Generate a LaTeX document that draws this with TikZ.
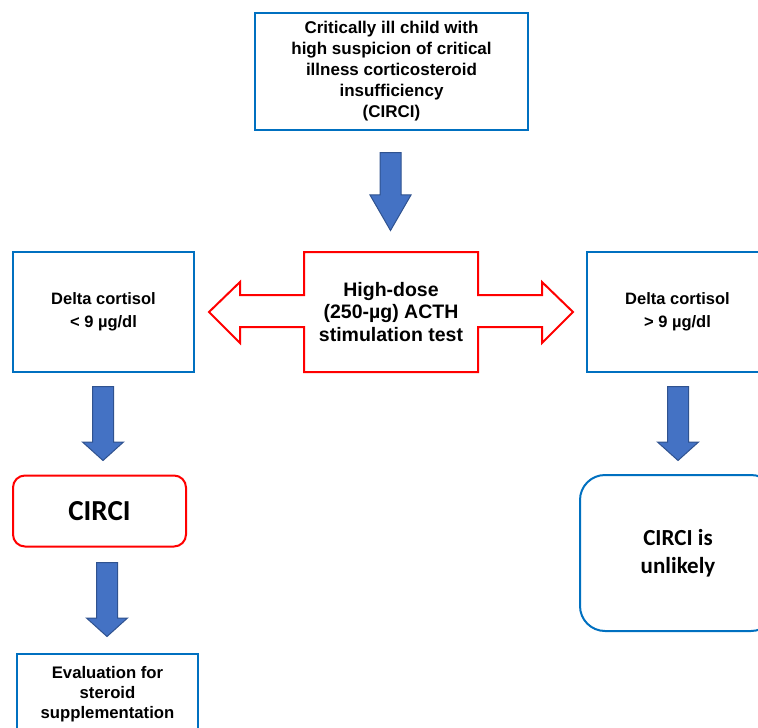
\documentclass[tikz,border=0pt]{standalone}
\usepackage{fontspec}
\setmainfont{Liberation Sans}
\newfontfamily\calfont{Carlito}
\usetikzlibrary{shapes.arrows}
\definecolor{boxblue}{RGB}{0,112,192}
\definecolor{arrfill}{RGB}{68,114,196}
\definecolor{arredge}{RGB}{47,82,143}

\begin{document}
\begin{tikzpicture}[x=1pt,y=-1pt,
    bluebox/.style={draw=boxblue,line width=2pt,fill=white,align=center},
    downarrow/.style={single arrow,shape border rotate=270,draw=arredge,fill=arrfill,line width=1pt,
      inner sep=10pt,single arrow head extend=10pt,single arrow head indent=0pt,anchor=tail}]
    \useasboundingbox (0,0) rectangle (758,728);
    \node[bluebox,minimum width=273pt,minimum height=117pt,font=\bfseries\fontsize{17}{21}\selectfont] (child) at (391.5,71.5)
      {Critically ill child with\\high suspicion of critical\\illness corticosteroid\\insufficiency\\(CIRCI)};
    \node[downarrow,minimum height=78pt,single arrow tip angle=60] (arrA) at (390.5,152) {};
    \draw[red,line width=2pt,fill=white] (304,252) -- (478,252) -- (478,295) -- (542,295) -- (542,282) -- (573,312)
      -- (542,343) -- (542,327) -- (478,327) -- (478,372) -- (304,372) -- (304,327) -- (240,327) -- (240,343)
      -- (209,312) -- (240,282) -- (240,295) -- (304,295) -- cycle;
    \node[align=center,font=\bfseries\fontsize{19.5}{22.5}\selectfont] (acth) at (391,312)
      {High-dose\\(250-µg) ACTH\\stimulation test};
    \node[bluebox,minimum width=181pt,minimum height=120pt,font=\bfseries\fontsize{16.5}{23}\selectfont] (low) at (103.5,312)
      {Delta cortisol\\< 9 µg/dl};
    \node[bluebox,minimum width=181pt,minimum height=120pt,font=\bfseries\fontsize{16.5}{23}\selectfont] (high) at (677.5,312)
      {Delta cortisol\\> 9 µg/dl};
    \node[downarrow,minimum height=74pt,single arrow tip angle=96] (arrB) at (103,386) {};
    \node[downarrow,minimum height=74pt,single arrow tip angle=96] (arrD) at (678,386) {};
    \node[draw=red,line width=2pt,rounded corners=12pt,minimum width=173pt,minimum height=71pt,
      font=\calfont\bfseries\fontsize{29}{34}\selectfont] (circi) at (99.5,511) {CIRCI};
    \node[draw=boxblue,line width=2pt,rounded corners=25pt,minimum width=196pt,minimum height=156pt,align=center,
      font=\calfont\bfseries\fontsize{23}{28}\selectfont] (unlikely) at (678,553) {CIRCI is\\unlikely};
    \node[downarrow,minimum height=74pt,single arrow tip angle=96] (arrC) at (107,562) {};
    \node[bluebox,minimum width=181pt,minimum height=80pt,font=\bfseries\fontsize{16.7}{20}\selectfont] (eval) at (107.5,694)
      {Evaluation for\\steroid\\supplementation};
\end{tikzpicture}
\end{document}
